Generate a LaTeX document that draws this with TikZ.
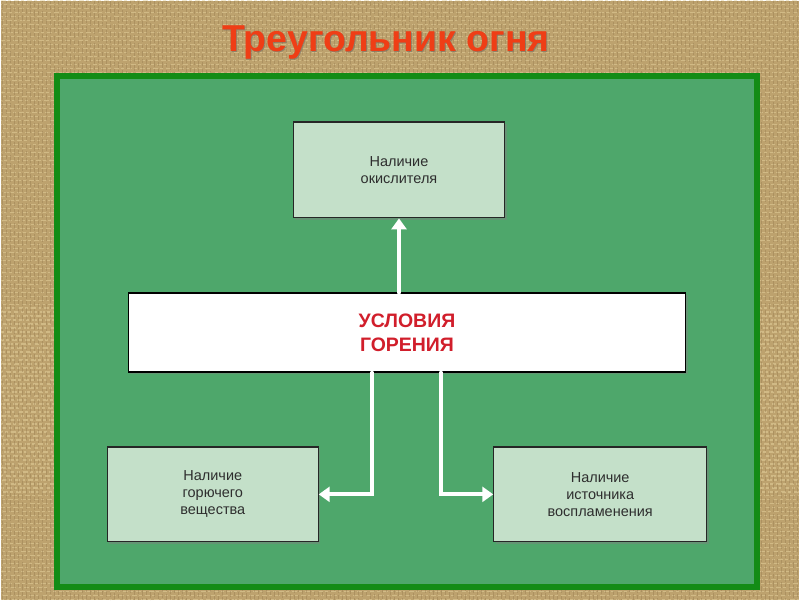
\documentclass[tikz,border=0pt]{standalone}
\usepackage{fontspec}
\setmainfont{Liberation Sans}
\usepackage{tikz}
\usetikzlibrary{positioning,arrows.meta,shadows}
\definecolor{burlap}{HTML}{BDA26E}
\definecolor{burlaplight}{HTML}{E6D39F}
\definecolor{burlapdark}{HTML}{8E7248}
\definecolor{panelfill}{HTML}{4EA76B}
\definecolor{panelrim}{HTML}{138C16}
\definecolor{boxfill}{HTML}{C4E0C9}
\definecolor{boxtext}{HTML}{2E2E2E}
\definecolor{titlered}{HTML}{EF3E16}
\definecolor{condred}{HTML}{D11E2B}
\tikzset{
  conditionbox/.style={rectangle, draw=black!85, line width=1.2pt, fill=boxfill,
                       text=boxtext, align=center, font=\fontsize{14.5}{17}\selectfont,
                       minimum width=212pt, minimum height=96pt,
                       drop shadow={shadow xshift=2pt, shadow yshift=-2pt, opacity=.45}},
  mainbox/.style={rectangle, draw=black, line width=1.4pt, fill=white,
                  text=condred, align=center, font=\fontsize{19.5}{24}\selectfont\bfseries,
                  minimum width=558pt, minimum height=79pt,
                  drop shadow={shadow xshift=2pt, shadow yshift=-2pt, opacity=.45}},
  flow/.style={draw=white, line width=4pt, line cap=round,
               -{Triangle[length=11pt,width=15pt]}},
  weft/.style={burlaplight, line width=1.3pt, opacity=.5, dash pattern=on 5pt off 2pt on 3pt off 3pt},
  warp/.style={burlapdark, line width=1pt, opacity=.35, dash pattern=on 4pt off 3pt on 6pt off 2pt}
}

\begin{document}
\begin{tikzpicture}[x=1pt,y=-1pt]
    % Background (woven texture) and panel
    \fill[burlap] (0,0) rectangle (800,600);
    \foreach \k in {0,4,...,600}
        \draw[weft, dash phase=\k] (0,\k) -- (800,\k);
    \foreach \k in {2,6,...,800}
        \draw[warp, dash phase=1.7*\k] (\k,0) -- (\k,600);
    \useasboundingbox (0,0) rectangle (800,600);
    \draw[panelrim, fill=panelfill, line width=5.5pt] (56.5,75.5) rectangle (757.5,587.5);
    % Title
    \node (titleshadow) at (387,43) [text=black!60, opacity=.5, font=\fontsize{37.5}{42}\selectfont\bfseries] {Треугольник огня};
    \node (title) at (386,42) [text=titlered, font=\fontsize{37.5}{42}\selectfont\bfseries] {Треугольник огня};
    % Boxes
    \node[mainbox] (cond) at (407,332.5) {УСЛОВИЯ\\ГОРЕНИЯ};
    \node[conditionbox] (oxid) at (399,169.5) {Наличие\\окислителя};
    \node[conditionbox, minimum width=211pt, minimum height=95pt] (fuel) at (212.5,494.5) {Наличие\\горючего\\вещества};
    \node[conditionbox, minimum width=213pt, minimum height=95pt] (ignit) at (600.5,494.5) {Наличие\\источника\\воспламенения};
    % Arrows
    \draw[flow] (oxid.south |- cond.north) -- (oxid.south);
    \draw[flow] ([xshift=-35pt]cond.south) |- (fuel.east);
    \draw[flow] ([xshift=34pt]cond.south) |- (ignit.west);
\end{tikzpicture}
\end{document}
